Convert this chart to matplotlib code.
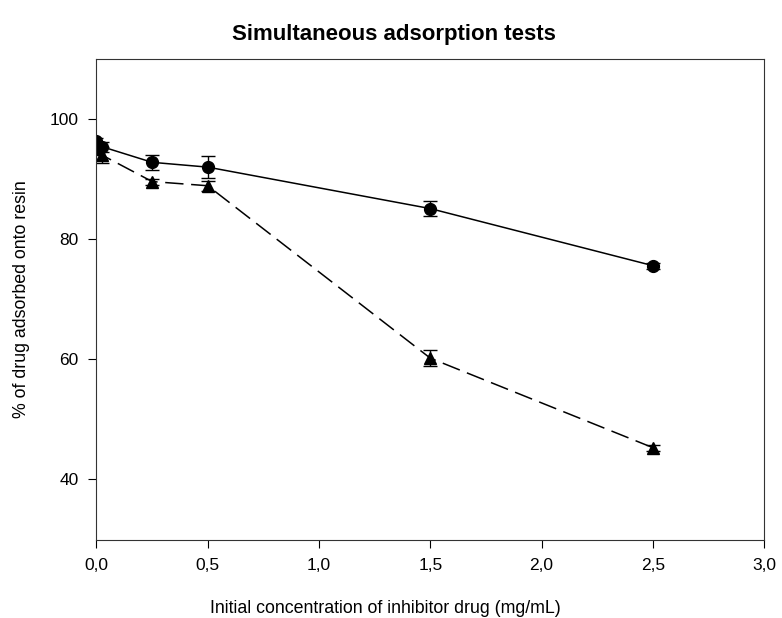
import matplotlib
matplotlib.use('Agg')
import matplotlib.pyplot as plt
from matplotlib.ticker import FuncFormatter

plt.rcParams['font.family'] = ['Liberation Sans', 'DejaVu Sans']

# initial concentration of inhibitor drug (mg/mL)
conc = [0.0, 0.025, 0.25, 0.5, 1.5, 2.5]

# circles, solid line
circ_y = [96.3, 95.4, 92.8, 92.0, 85.1, 75.6]
circ_err = [0.5, 0.8, 1.2, 1.8, 1.2, 0.5]

# triangles, dashed line
tri_y = [95.0, 94.0, 89.6, 88.9, 60.2, 45.3]
tri_err = [0.8, 1.3, 0.5, 0.8, 1.3, 0.5]

fig = plt.figure(figsize=(7.82, 6.18), dpi=100)
ax = fig.add_axes([0.1234, 0.127, 0.8536, 0.7775])

ax.errorbar(conc, circ_y, yerr=circ_err, fmt='o-', color='black', ms=8.5,
            lw=1.1, capsize=5, elinewidth=1, capthick=1)
ax.errorbar(conc, tri_y, yerr=tri_err, fmt='^', ls=(0, (12, 5)), color='black',
            ms=8.5, lw=1.1, capsize=5, elinewidth=1, capthick=1)

ax.set_xlim(0, 3.0)
ax.set_ylim(30, 110)
ax.set_xticks([0, 0.5, 1.0, 1.5, 2.0, 2.5, 3.0])
ax.set_yticks([40, 60, 80, 100])
ax.xaxis.set_major_formatter(FuncFormatter(lambda v, p: ('%.1f' % v).replace('.', ',')))
ax.tick_params(direction='out', length=6, labelsize=12.5, pad=7)

for s in ax.spines.values():
    s.set_color('#333333')

ax.set_xlabel('Initial concentration of inhibitor drug (mg/mL)', fontsize=12.8)
ax.xaxis.set_label_coords(0.433, -0.125)
ax.set_ylabel('% of drug adsorbed onto resin', fontsize=12.8, labelpad=14)
ax.set_title('Simultaneous adsorption tests', fontsize=16, fontweight='bold', x=0.446, pad=14)

fig.savefig('out.png', dpi=100)
